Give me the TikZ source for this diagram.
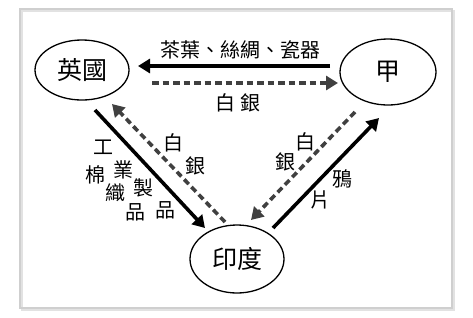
\documentclass[tikz,border=0pt]{standalone}
\usepackage{fontspec}
\setmainfont{Noto Sans CJK TC}
\usetikzlibrary{shapes.geometric,arrows.meta}
\definecolor{dashgray}{HTML}{404040}
\definecolor{framegray}{HTML}{CFCFCF}
\tikzset{
  country/.style={ellipse,draw=black,line width=1.3pt,font=\fontsize{25}{25}\selectfont,inner sep=0pt},
  solidarr/.style={line width=3.6pt,draw=black,-{Triangle[length=12pt,width=14pt]}},
  dasharr/.style={line width=3.6pt,draw=dashgray,dash pattern=on 6.5pt off 4pt,-{Triangle[length=12pt,width=14pt]}},
  lbl/.style={font=\fontsize{20}{20}\selectfont,inner sep=0pt}
}
\begin{document}
\begin{tikzpicture}[x=1pt,y=-1pt]
\useasboundingbox (0,0) rectangle (473,317);
\fill[white] (0,0) rectangle (473,317);
\draw[framegray!60,line width=2pt] (22,11) rectangle (454,310);
\draw[framegray,line width=1.2pt] (20,9) rectangle (452,308);
% countries
\node[country,minimum width=94pt,minimum height=60pt] (uk) at (82,70) {英國};
\node[country,minimum width=96pt,minimum height=66pt] (jia) at (388,72) {甲};
\node[country,minimum width=94pt,minimum height=68pt] (in) at (237,259) {印度};
% endpoints
\coordinate (t1) at (330,66);  \coordinate (t2) at (138,66);
\coordinate (d1) at (152,83);  \coordinate (d2) at (338,83);
\coordinate (l1) at (95,110);  \coordinate (l2) at (205,228);
\coordinate (m1) at (225,222); \coordinate (m2) at (112,104);
\coordinate (r1) at (355,112); \coordinate (r2) at (251,220);
\coordinate (s1) at (273,228); \coordinate (s2) at (379,118);
\draw[solidarr] (t1) -- (t2);
\draw[dasharr] (d1) -- (d2);
\draw[solidarr] (l1) -- (l2);
\draw[dasharr] (m1) -- (m2);
\draw[dasharr] (r1) -- (r2);
\draw[solidarr] (s1) -- (s2);
% labels
\node[lbl] (goods) at (240,50) {茶葉、絲綢、瓷器};
\node[lbl] (silver) at (238,103) {白\hspace{5pt}銀};
\node[lbl] (a1) at (173,143) {白};
\node[lbl] (a2) at (195,166) {銀};
\node[lbl] (b1) at (103,147) {工};
\node[lbl] (b2) at (95,175) {棉};
\node[lbl] (b3) at (123,170) {業};
\node[lbl] (b4) at (115,193) {織};
\node[lbl] (b5) at (143,188) {製};
\node[lbl] (b6) at (135,212) {品};
\node[lbl] (b7) at (165,210) {品};
\node[lbl] (c1) at (305,142) {白};
\node[lbl] (c2) at (285,162) {銀};
\node[lbl] (c3) at (342,179) {鴉};
\node[lbl] (c4) at (320,200) {片};
\end{tikzpicture}
\end{document}
